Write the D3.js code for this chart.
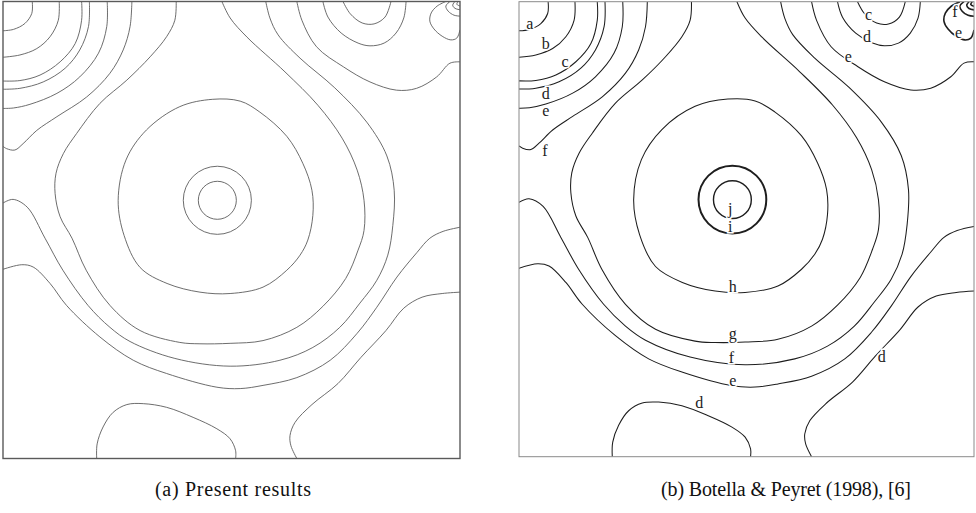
<!DOCTYPE html>
<html>
<head>
<meta charset="utf-8">
<script src="https://cdn.jsdelivr.net/npm/d3@7"></script>
<style>
  body { margin: 0; background: #fff; }
  svg { display: block; }
</style>
</head>
<body>
<svg id="chart" width="976" height="513"></svg>
<script>
// Contour lines, cavity coordinates (x right, y up, 0..1)
const contourA = [[0.064,1],[0.063,0.974],[0.048,0.952],[0.023,0.939],[0,0.936]];
const contourB = [[0.123,1],[0.121,0.959],[0.103,0.923],[0.074,0.897],[0.037,0.883],[0,0.878]];
const contourC = [[0.172,1],[0.172,0.959],[0.158,0.908],[0.125,0.868],[0.081,0.839],[0.037,0.827],[0,0.826]];
const contourD = [[0.189,1],[0.187,0.945],[0.168,0.894],[0.136,0.854],[0.088,0.824],[0.037,0.810],[0,0.808]];
const contourE = [[0.228,1],[0.227,0.945],[0.209,0.887],[0.168,0.835],[0.118,0.799],[0.059,0.775],[0.023,0.767],[0,0.766]];
const contourFLeft = [[0.282,1],[0.278,0.945],[0.263,0.894],[0.234,0.843],[0.183,0.791],[0.118,0.748],[0.074,0.718],[0.044,0.689],[0.026,0.675],[0.008,0.678],[0,0.683]];
// outer f line: left wall, round the bottom, up to the lid
const contourFLow = [[0,0.559],[0.022,0.567],[0.053,0.550],[0.092,0.482],[0.131,0.412],[0.186,0.335],[0.234,0.287],[0.278,0.256],[0.376,0.219],[0.497,0.202],[0.606,0.215],[0.678,0.243],[0.737,0.287],[0.781,0.340],[0.818,0.390],[0.842,0.445],[0.853,0.510],[0.856,0.587],[0.840,0.662],[0.796,0.736],[0.726,0.811],[0.650,0.876],[0.602,0.927],[0.584,0.964],[0.575,1]];
// g: U shape hanging from the lid
const contourG = [[0.479,1],[0.497,0.964],[0.534,0.922],[0.617,0.846],[0.689,0.773],[0.742,0.701],[0.775,0.631],[0.790,0.565],[0.790,0.499],[0.777,0.456],[0.750,0.394],[0.700,0.333],[0.643,0.287],[0.569,0.258],[0.497,0.252],[0.431,0.251],[0.387,0.254],[0.300,0.280],[0.234,0.335],[0.182,0.412],[0.151,0.482],[0.125,0.529],[0.114,0.580],[0.116,0.624],[0.132,0.667],[0.161,0.711],[0.212,0.777],[0.271,0.828],[0.322,0.879],[0.358,0.923],[0.376,0.959],[0.379,1]];
const contourH = [[0.459,0.786],[0.519,0.782],[0.562,0.758],[0.621,0.705],[0.656,0.646],[0.676,0.587],[0.678,0.532],[0.667,0.478],[0.650,0.445],[0.621,0.412],[0.569,0.375],[0.497,0.361],[0.431,0.364],[0.359,0.383],[0.300,0.418],[0.265,0.488],[0.252,0.565],[0.269,0.653],[0.314,0.719],[0.387,0.770]];
const contourEU = [[0,0.414],[0.041,0.424],[0.066,0.419],[0.103,0.383],[0.139,0.335],[0.212,0.266],[0.285,0.215],[0.358,0.186],[0.468,0.156],[0.519,0.153],[0.569,0.160],[0.643,0.177],[0.716,0.215],[0.775,0.274],[0.818,0.331],[0.862,0.397],[0.906,0.451],[0.934,0.482],[0.963,0.497],[1,0.506]];
const contourETop = [[0.643,1],[0.654,0.959],[0.686,0.901],[0.745,0.857],[0.803,0.824],[0.861,0.806],[0.905,0.810],[0.949,0.835],[0.978,0.865],[1,0.868]];
const contourDTop = [[0.700,1],[0.711,0.966],[0.740,0.931],[0.777,0.909],[0.803,0.903],[0.834,0.909],[0.860,0.931],[0.877,0.964],[0.882,1]];
const contourCTop = [[0.744,1],[0.760,0.973],[0.786,0.953],[0.812,0.951],[0.836,0.966],[0.849,1]];
const contourECorner = [[0.969,1],[0.950,0.990],[0.937,0.975],[0.934,0.957],[0.943,0.940],[0.961,0.924],[0.980,0.916],[0.993,0.920],[1,0.938]];
const contourFCorner = [[0.978,1],[0.969,0.990],[0.974,0.979],[0.987,0.970],[1,0.968]];
const contourGCorner = [[0.989,1],[0.984,0.992],[0.989,0.985],[1,0.982]];
const contourHCorner = [[0.996,1],[0.993,0.994],[1,0.990]];
const contourDRight = [[0.643,0],[0.630,0.028],[0.628,0.050],[0.639,0.079],[0.676,0.118],[0.733,0.164],[0.783,0.221],[0.838,0.280],[0.877,0.329],[0.917,0.353],[0.961,0.361],[1,0.364]];
const contourDBottom = [[0.205,0],[0.206,0.032],[0.219,0.069],[0.241,0.101],[0.271,0.118],[0.307,0.120],[0.358,0.112],[0.416,0.090],[0.468,0.065],[0.497,0.043],[0.509,0.017],[0.509,0]];

const openContours = [contourA, contourB, contourC, contourD, contourE, contourFLeft, contourFLow, contourG,
  contourEU, contourETop, contourDTop, contourCTop, contourDRight, contourDBottom];
const cornerContours = [contourECorner, contourFCorner, contourGCorner, contourHCorner];
const closedContours = [contourH];

// the two circles round the vortex centre: level, centre x, centre y, radius
const vortexCircles = [['i', 0.469, 0.565, 0.0745], ['j', 0.469, 0.565, 0.0416]];

// level letters written on panel (b): letter, x, y
const labelsB = [
  ['a',0.024,0.953],['b',0.059,0.909],['c',0.101,0.868],['d',0.059,0.799],['e',0.059,0.760],['f',0.057,0.674],
  ['j',0.464,0.546],['i',0.464,0.505],
  ['c',0.768,0.971],['d',0.765,0.923],['e',0.724,0.879],['f',0.958,0.978],['e',0.966,0.933],
  ['h',0.470,0.374],['g',0.470,0.270],['f',0.467,0.218],['e',0.470,0.167],['d',0.396,0.120],['d',0.797,0.220]
];

const captions = ['(a) Present results', '(b) Botella & Peyret (1998), [6]'];

const svg = d3.select('#chart');

const panels = [
  { x0: 3, y0: 1.5, size: 457, stroke: '#5c5c5c', sw: 0.9, border: '#5a5a5a', bw: 1.4, labels: [], capX: 233, capW: 156 },
  { x0: 519, y0: 1.7, size: 455, stroke: '#1e1e1e', sw: 1.05, border: '#8a8a8a', bw: 1.0, labels: labelsB, capX: 786, capW: 250 }
];

panels.forEach((p, k) => {
    const xScale = d3.scaleLinear().domain([0, 1]).range([0, p.size]);
    const yScale = d3.scaleLinear().domain([0, 1]).range([p.size, 0]);

    const g = svg.append('g').attr('transform', `translate(${p.x0},${p.y0})`);

    g.append('clipPath').attr('id', 'clip' + k)
        .append('rect').attr('width', p.size).attr('height', p.size);

    const inner = g.append('g').attr('clip-path', `url(#clip${k})`);

    const line = d3.line()
        .x(d => xScale(d[0]))
        .y(d => yScale(d[1]))
        .curve(d3.curveCatmullRom.alpha(0.5));

    const loop = d3.line()
        .x(d => xScale(d[0]))
        .y(d => yScale(d[1]))
        .curve(d3.curveCatmullRomClosed.alpha(0.5));

    inner.selectAll('path.open')
        .data(openContours)
        .join('path')
        .attr('class', 'open')
        .attr('fill', 'none')
        .attr('stroke', p.stroke)
        .attr('stroke-width', p.sw)
        .attr('d', line);

    inner.selectAll('path.corner')
        .data(cornerContours)
        .join('path')
        .attr('class', 'corner')
        .attr('fill', 'none')
        .attr('stroke', p.stroke)
        .attr('stroke-width', k === 1 ? 1.6 : p.sw)
        .attr('d', line);

    inner.selectAll('path.closed')
        .data(closedContours)
        .join('path')
        .attr('class', 'closed')
        .attr('fill', 'none')
        .attr('stroke', p.stroke)
        .attr('stroke-width', p.sw)
        .attr('d', loop);

    inner.selectAll('circle')
        .data(vortexCircles)
        .join('circle')
        .attr('cx', d => xScale(d[1]))
        .attr('cy', d => yScale(d[2]))
        .attr('r', d => xScale(d[3]) - xScale(0))
        .attr('fill', 'none')
        .attr('stroke', p.stroke)
        .attr('stroke-width', d => k === 1 ? (d[0] === 'i' ? 2 : 1.4) : p.sw);

    // level letters sit on the lines with a white gap
    g.selectAll('text.lab')
        .data(p.labels)
        .join('text')
        .attr('class', 'lab')
        .attr('x', d => xScale(d[1]))
        .attr('y', d => yScale(d[2]))
        .attr('text-anchor', 'middle')
        .attr('dominant-baseline', 'central')
        .attr('font-family', '"Liberation Serif", "DejaVu Serif", serif')
        .attr('font-size', 16)
        .attr('fill', '#222')
        .attr('stroke', '#fff')
        .attr('stroke-width', 3)
        .attr('paint-order', 'stroke')
        .text(d => d[0]);

    g.append('rect')
        .attr('width', p.size)
        .attr('height', p.size)
        .attr('fill', 'none')
        .attr('stroke', p.border)
        .attr('stroke-width', p.bw);

    svg.append('text')
        .attr('x', p.capX)
        .attr('y', 496)
        .attr('text-anchor', 'middle')
        .attr('font-family', '"Liberation Serif", "DejaVu Serif", serif')
        .attr('font-size', 20)
        .attr('textLength', p.capW)
        .attr('lengthAdjust', 'spacing')
        .attr('fill', '#111')
        .text(captions[k]);
});
</script>
</body>
</html>
